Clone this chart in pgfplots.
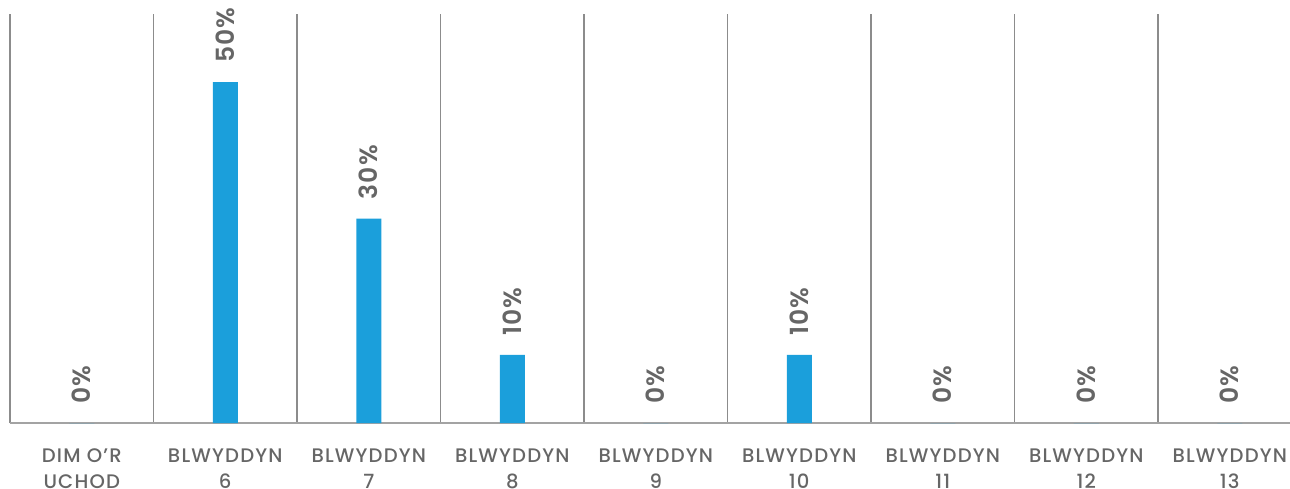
\documentclass[border=0pt]{standalone}
\usepackage{pgfplots}
\pgfplotsset{compat=1.18}
\usepackage{fontspec}
\setmainfont{Poppins}
\newfontfamily\medfont{Poppins Medium}
\newfontfamily\semifont{Poppins SemiBold}
\definecolor{barblue}{HTML}{1B9FDB}
\definecolor{txtgray}{HTML}{666666}
\definecolor{linegray}{HTML}{8C8C8C}
\begin{document}
\begin{tikzpicture}
\useasboundingbox (-5pt,-32.5pt) rectangle (640pt,211.5pt);
\begin{pgfinterruptboundingbox}
\clip (-5pt,-32.5pt) rectangle (640pt,211.5pt);
\begin{axis}[
    at={(0,0)}, anchor=south west,
    scale only axis,
    width=645.75pt, height=204.5pt,
    ybar, bar width=12.5pt,
    xmin=-0.5, xmax=8.5,
    ymin=0, ymax=60,
    axis x line=bottom, axis y line=none,
    x axis line style={draw=linegray!80, line width=1pt, -},
    xtick={0,...,8},
    xticklabels={{DIM O’R\\UCHOD},{BLWYDDYN\\6},{BLWYDDYN\\7},{BLWYDDYN\\8},{BLWYDDYN\\9},{BLWYDDYN\\10},{BLWYDDYN\\11},{BLWYDDYN\\12},{BLWYDDYN\\13}},
    xticklabel style={align=center, font=\medfont\fontsize{9.8}{13}\selectfont\addfontfeature{LetterSpace=6}, text=txtgray, yshift=-9.5pt},
    major tick length=0pt,
    minor xtick={-0.5,0.5,...,8.5},
    xminorgrids,
    minor grid style={draw=linegray, line width=0.75pt},
    minor tick length=0pt,
    /pgf/number format/assume math mode=true,
    nodes near coords={\pgfmathprintnumber{\pgfplotspointmeta}\%},
    every node near coord/.style={yshift=9.5pt, rotate=90, anchor=west, inner sep=0pt,
        font=\semifont\fontsize{12.5}{14}\selectfont\addfontfeature{LetterSpace=4}, text=txtgray},
    nodes near coords align={vertical},
    clip=false,
]
\addplot[fill=barblue, draw=none]
coordinates {(0,0) (1,50) (2,30) (3,10) (4,0) (5,10) (6,0) (7,0) (8,0)};
\end{axis}
\end{pgfinterruptboundingbox}
\end{tikzpicture}
\end{document}
